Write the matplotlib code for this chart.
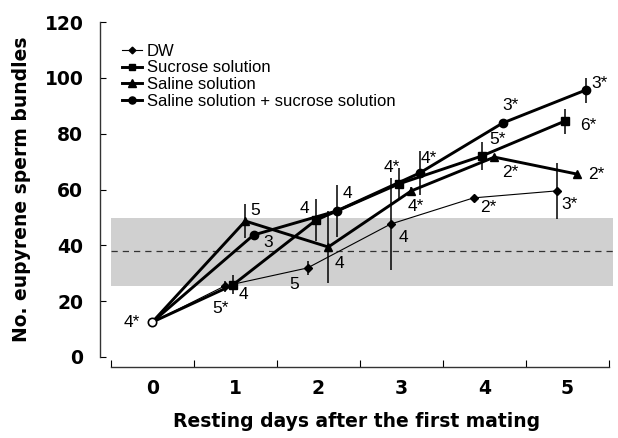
import numpy as np
import matplotlib
matplotlib.use('Agg')
import matplotlib.pyplot as plt

plt.rcParams['font.family'] = ['Liberation Sans', 'DejaVu Sans']

# data
days = [0, 1, 2, 3, 4, 5]
day_labels = ['0', '1', '2', '3', '4', '5']

dw_mean = [12.5, 25.4, 31.9, 47.6, 57.0, 59.5]
dw_err = [0, 2.0, 2.5, 16.5, 0, 10.0]
dw_n = ['4*', '5*', '5', '4', '2*', '3*']

suc_mean = [12.5, 25.8, 49.0, 62.0, 72.0, 84.5]
suc_err = [0, 3.4, 7.5, 5.7, 5.0, 4.5]
suc_n = ['', '4', '4', '4*', '5*', '6*']

sal_mean = [12.5, 48.7, 39.4, 59.5, 71.6, 65.5]
sal_err = [0, 6.0, 13.0, 1.5, 0, 0]
sal_n = ['', '5', '4', '4*', '2*', '2*']

salsuc_mean = [12.5, 43.7, 52.3, 65.9, 83.8, 95.6]
salsuc_err = [0, 0, 9.3, 8.0, 0, 4.5]
salsuc_n = ['', '3', '4', '4*', '3*', '3*']

# control range (virgin males)
ctrl_low = 25.4
ctrl_high = 49.8
ctrl_mean = 38.0

series_names = ['DW', 'Sucrose solution', 'Saline solution',
                'Saline solution + sucrose solution']

# styles
offsets = [-0.13, -0.03, 0.12, 0.22]
markers = ['D', 's', '^', 'o']
msizes = [4, 5.5, 6, 6]
lwidths = [0.8, 2.1, 2.1, 2.1]
label_offsets = [
    [(-20, 0), (-4, -22), (-13, -17), (13, -13), (15, -10), (13, -14)],
    [None, (11, -10), (-11, 12), (-7, 16), (16, 16), (23, -4)],
    [None, (10, 11), (11, -16), (5, -16), (16, -15), (19, 0)],
    [None, (15, -7), (11, 17), (9, 15), (8, 18), (14, 7)],
]
bold = dict(family='DejaVu Sans', fontweight='bold')

fig = plt.figure(figsize=(6.18, 4.38), dpi=100)
ax = fig.add_axes([100 / 618, 81 / 438, 513 / 618, 335 / 438])

# shaded band + dashed mean
ax.fill_between([-0.5, 5.55], ctrl_low, ctrl_high, color='#d0d0d0', lw=0, zorder=0)
ax.hlines(ctrl_mean, -0.5, 5.55, colors='#333333', linestyles=(0, (5, 4)), lw=0.9, zorder=1)

means = [dw_mean, suc_mean, sal_mean, salsuc_mean]
errs = [dw_err, suc_err, sal_err, salsuc_err]
ns = [dw_n, suc_n, sal_n, salsuc_n]

for i in range(4):
    x = np.array(days, dtype=float)
    x[1:] += offsets[i]
    y = np.array(means[i])
    e = np.array(errs[i])
    ax.errorbar(x[1:], y[1:], yerr=e[1:], fmt='none', ecolor='black', elinewidth=1.1,
                capsize=0, zorder=2)
    ax.plot(x, y, color='black', lw=lwidths[i], zorder=3)
    ax.plot(x[1:], y[1:], ls='none', marker=markers[i], ms=msizes[i], color='black', zorder=4)
    ax.plot([], [], color='black', lw=lwidths[i], marker=markers[i], ms=msizes[i] * 0.85,
            label=series_names[i])
    for j in range(6):
        if ns[i][j] and label_offsets[i][j] is not None:
            ax.annotate(ns[i][j], (x[j], y[j]), xytext=label_offsets[i][j],
                        textcoords='offset pixels', ha='center', va='center',
                        fontsize=12.5, annotation_clip=False)

# start point (day 0)
ax.plot([days[0]], [dw_mean[0]], marker='o', ms=6, mfc='white', mec='black', mew=1.2,
        ls='none', zorder=5)

ax.set_xlim(-0.63, 5.55)
ax.set_ylim(0, 120)

for s in ['top', 'right']:
    ax.spines[s].set_visible(False)
ax.spines['left'].set_bounds(0, 120)
ax.spines['bottom'].set_bounds(-0.5, 5.5)
ax.spines['bottom'].set_position(('outward', 7.2))
ax.spines['left'].set_color('#333333')
ax.spines['bottom'].set_color('#333333')
ax.spines['left'].set_linewidth(1.0)
ax.spines['bottom'].set_linewidth(1.0)

ax.set_yticks([0, 20, 40, 60, 80, 100, 120])
ax.set_yticklabels([0, 20, 40, 60, 80, 100, 120], fontsize=13.5, **bold)
ax.tick_params(axis='y', direction='in', length=4, pad=12)

ax.set_xticks(np.arange(-0.5, 6, 1.0))
ax.set_xticklabels([])
ax.set_xticks(days, minor=True)
ax.set_xticklabels(day_labels, minor=True, fontsize=13.5, **bold)
ax.tick_params(axis='x', which='major', direction='in', length=5)
ax.tick_params(axis='x', which='minor', length=0, pad=9)

ax.set_xlabel('Resting days after the first mating', fontsize=13.5, labelpad=10, **bold)
ax.set_ylabel('No. eupyrene sperm bundles', fontsize=13.5, labelpad=10, **bold)

ax.legend(loc='upper left', bbox_to_anchor=(0.03, 0.955), frameon=False, fontsize=12,
          handlelength=1.2, handletextpad=0.3, labelspacing=0.1, borderaxespad=0)

fig.savefig('out.png', dpi=100)
